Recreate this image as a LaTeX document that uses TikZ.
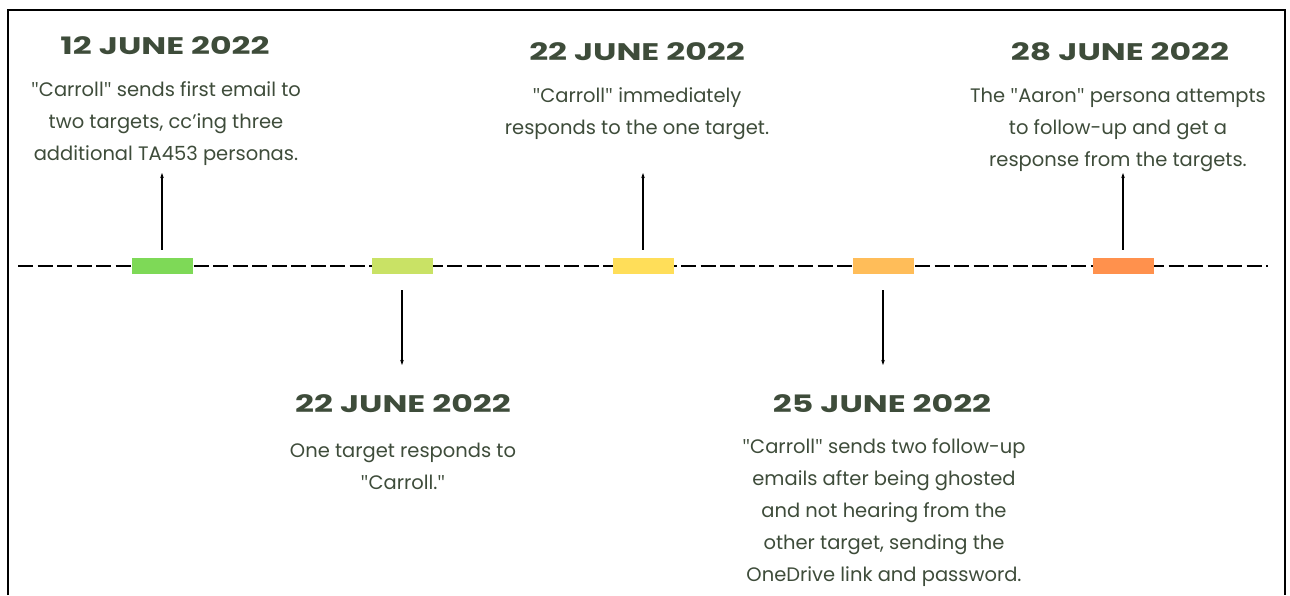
\documentclass[tikz,border=0pt]{standalone}
\usepackage{fontspec}
\setmainfont{Poppins}
\newfontfamily\quotefont{Open Sans}
\usetikzlibrary{arrows.meta, calc}
\definecolor{txtgreen}{HTML}{3E4C3A}
\newcommand{\qq}{{\quotefont\symbol{34}}}
\newcommand{\wide}[1]{\scalebox{1.38}[1]{#1}}
\begin{document}
\begin{tikzpicture}[x=1pt, y=-1pt,
		datum/.style={font=\bfseries\fontsize{24}{28}\selectfont, text=txtgreen},
		desc/.style={font=\fontsize{19.5}{32}\selectfont, text=txtgreen, align=center},
		barbox/.style={rectangle, minimum width=61pt, minimum height=16pt, inner sep=0pt},
		pointer/.style={line width=1.1pt, -{Stealth[length=5pt, width=3.5pt]}}]
		\useasboundingbox (0, 0) rectangle (1290, 595);
		\fill[white] (0, 0) rectangle (1290, 595);
		\draw[line width=2pt] (8, 595) -- (8, 10) -- (1285, 10) -- (1285, 595);
		\coordinate (lstart) at (18, 266);
		\coordinate (lend) at (1268, 266);
		\draw[line width=2.8pt, dash pattern=on 15pt off 4.5pt] (lstart) -- (lend);
		\foreach \n/\x/\col in {1/162/7ED957, 2/402/C9E265, 3/643/FFDE59, 4/883/FFBD59, 5/1123/FF914D}{
			\definecolor{barfill}{HTML}{\col}
			\node[barbox, fill = barfill] (b\n) at (\x, 266) {};}
		\node[datum] (d1) at (165, 46) {\wide{12 JUNE 2022}};
		\node[desc] (t1) at (166, 124) {\qq Carroll\qq{} sends first email to\\two targets, cc'ing three\\additional TA453 personas.};
		\node[datum] (d3) at (637, 52) {\wide{22 JUNE 2022}};
		\node[desc] (t3) at (637, 114) {\qq Carroll\qq{} immediately\\responds to the one target.};
		\node[datum] (d5) at (1120, 52) {\wide{28 JUNE 2022}};
		\node[desc] (t5) at (1118, 130) {The \qq Aaron\qq{} persona attempts\\to follow-up and get a\\response from the targets.};
		\node[datum] (d2) at (403, 404) {\wide{22 JUNE 2022}};
		\node[desc] (t2) at (403, 466) {One target responds to\\\qq Carroll.\qq};
		\node[datum] (d4) at (882, 404) {\wide{25 JUNE 2022}};
		\node[desc] (t4) at (884, 513) {\qq Carroll\qq{} sends two follow-up\\emails after being ghosted\\and not hearing from the\\other target, sending the\\OneDrive link and password.};
		\foreach \n in {1, 3, 5}{
			\coordinate (a\n) at ($(b\n) + (0, -93)$);
			\draw[pointer, shorten <=8pt] (b\n.north) -- (a\n);}
		\foreach \n in {2, 4}{
			\coordinate (a\n) at ($(b\n) + (0, 99)$);
			\draw[pointer, shorten <=16pt] (b\n.south) -- (a\n);}
\end{tikzpicture}
\end{document}
